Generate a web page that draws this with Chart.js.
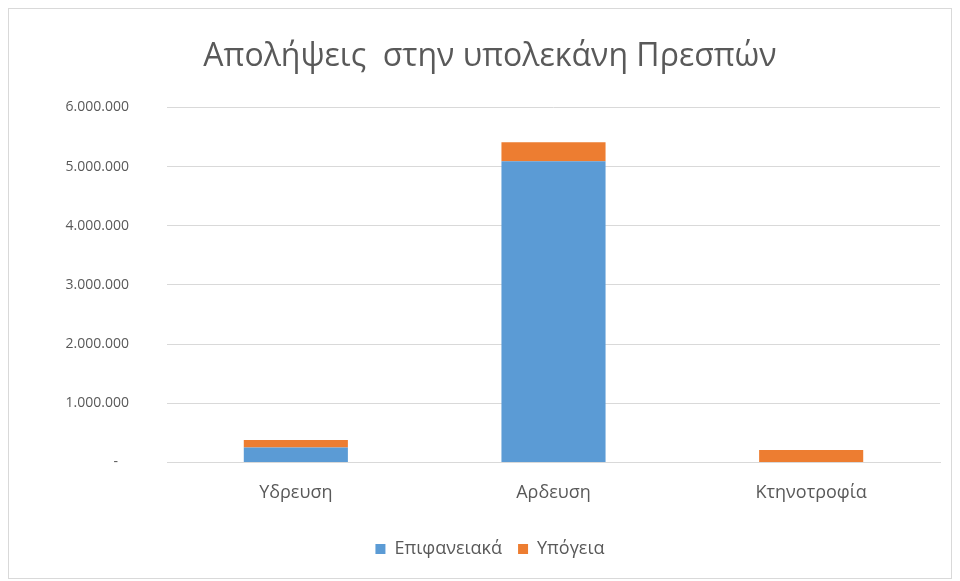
<!DOCTYPE html>
<html>
<head>
<meta charset="utf-8">
<script src="https://cdn.jsdelivr.net/npm/chart.js@4"></script>
<style>
  html, body { margin: 0; padding: 0; background: #fff; }
  #wrap { position: relative; width: 960px; height: 581px; }
  #frame { position: absolute; left: 8px; top: 8px; width: 942px; height: 569px; border: 1px solid #d9d9d9; pointer-events: none; }
</style>
</head>
<body>
<div id="wrap">
  <canvas id="grafico" width="960" height="581"></canvas>
  <div id="frame"></div>
</div>
<script>
// datos del grafico
const categorias = ['Υδρευση', 'Αρδευση', 'Κτηνοτροφία'];
const epifaneiaka = [250000, 5090000, 0];
const ypogeia = [130000, 320000, 210000];
const nombresSeries = ['Επιφανειακά', 'Υπόγεια'];
const titulo = 'Απολήψεις  στην υπολεκάνη Πρεσπών';

const colorTexto = '#595959';
const fuente = "'Open Sans', 'DejaVu Sans', sans-serif";

function formatoMiles(v) {
    if (v === 0) return '-   ';
    return v.toString().replace(/\B(?=(\d{3})+(?!\d))/g, '.');
}

const ctx = document.getElementById('grafico').getContext('2d');

new Chart(ctx, {
    type: 'bar',
    data: {
        labels: categorias,
        datasets: [
            {
                label: nombresSeries[0],
                data: epifaneiaka,
                backgroundColor: '#5B9BD5',
                barPercentage: 0.404,
                categoryPercentage: 1
            },
            {
                label: nombresSeries[1],
                data: ypogeia,
                backgroundColor: '#ED7D31',
                barPercentage: 0.404,
                categoryPercentage: 1
            }
        ]
    },
    options: {
        responsive: false,
        animation: false,
        layout: { padding: { left: 40, right: 20, top: 28, bottom: 13 } },
        plugins: {
            title: {
                display: true,
                text: titulo,
                color: colorTexto,
                font: { family: fuente, size: 32, weight: 'normal' },
                padding: { top: 10, bottom: 31 }
            },
            legend: {
                position: 'bottom',
                labels: {
                    color: colorTexto,
                    font: { family: fuente, size: 18 },
                    boxWidth: 10,
                    boxHeight: 10,
                    padding: 16
                }
            },
            tooltip: { enabled: false }
        },
        scales: {
            x: {
                stacked: true,
                grid: { display: false, drawTicks: false },
                border: { color: '#d9d9d9' },
                ticks: {
                    color: colorTexto,
                    font: { family: fuente, size: 18 },
                    padding: 20
                }
            },
            y: {
                stacked: true,
                min: 0,
                max: 6000000,
                afterFit: function (escala) { escala.width = 127; },
                grid: { color: '#d9d9d9', drawTicks: false },
                border: { display: false },
                ticks: {
                    stepSize: 1000000,
                    color: colorTexto,
                    font: { family: fuente, size: 14 },
                    padding: 38,
                    callback: formatoMiles
                }
            }
        }
    }
});
</script>
</body>
</html>
